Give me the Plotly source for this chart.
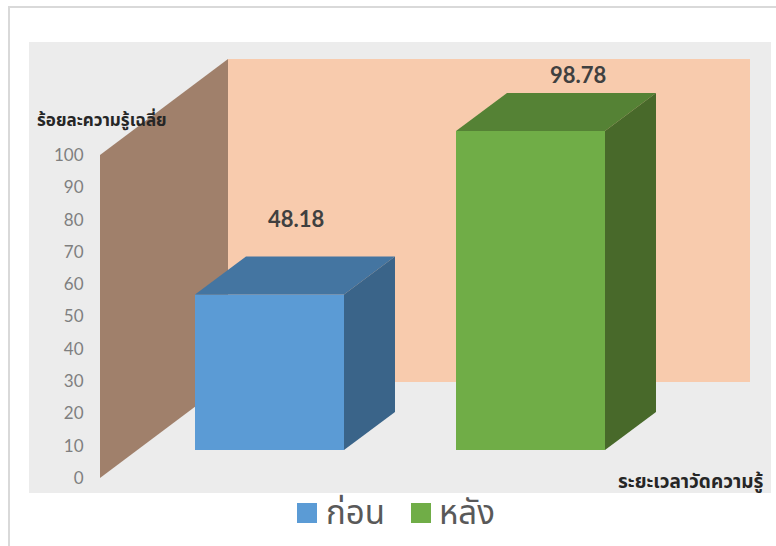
import plotly.graph_objects as go

# Data
categories = ["ก่อน", "หลัง"]
values = [48.18, 98.78]
y_ticks = [0, 10, 20, 30, 40, 50, 60, 70, 80, 90, 100]
y_title = "ร้อยละความรู้เฉลี่ย"
x_title = "ระยะเวลาวัดความรู้"

# Page size and value-axis scale
W, H = 776, 546
ZERO_ROW = 478
ROW_PER_UNIT = 3.23


def row(v):
    """Value on the y axis for a pixel row, for placing furniture."""
    return (ZERO_ROW - v) / ROW_PER_UNIT


# Oblique projection of the 3D box
WALL_LEFT, WALL_BACK, WALL_RIGHT = 100, 228, 750
WALL_DEPTH = row(382)
FLOOR = row(450)
BAR_DX, BAR_DY = 51, 38 / ROW_PER_UNIT
BAR_WIDTH = 149
bar_centers = [269.5, 530.5]
# data-label offset from the bar's rear top edge: columns right, value units up
label_shift = [(26.5, 11.6), (47.5, 5.8)]

FRONT = ["#5b9bd5", "#70ad47"]
TOP = ["#4475a1", "#558235"]
SIDE = ["#3a6489", "#48692a"]
THAI = "Noto Sans Thai, Noto Sans, Tahoma, sans-serif"
LATIN = "Lato, sans-serif"

fig = go.Figure()

for i, (name, v) in enumerate(zip(categories, values)):
    left = bar_centers[i] - BAR_WIDTH / 2
    right = bar_centers[i] + BAR_WIDTH / 2
    fig.add_bar(
        x=[bar_centers[i]], y=[v], base=FLOOR, width=BAR_WIDTH, name=name,
        marker=dict(color=FRONT[i], line_width=0), showlegend=False,
    )
    top = FLOOR + v
    # top face
    fig.add_scatter(
        x=[left, left + BAR_DX, right + BAR_DX, right, left],
        y=[top, top + BAR_DY, top + BAR_DY, top, top],
        mode="lines", fill="toself", fillcolor=TOP[i], line=dict(width=0),
        showlegend=False, hoverinfo="skip",
    )
    # side face
    fig.add_scatter(
        x=[right, right + BAR_DX, right + BAR_DX, right, right],
        y=[top, top + BAR_DY, FLOOR + BAR_DY, FLOOR, top],
        mode="lines", fill="toself", fillcolor=SIDE[i], line=dict(width=0),
        showlegend=False, hoverinfo="skip",
    )
    fig.add_annotation(
        x=bar_centers[i] + label_shift[i][0],
        y=top + BAR_DY + label_shift[i][1],
        text=f"<b>{v:.2f}</b>", showarrow=False, yanchor="middle",
        font=dict(family=LATIN, size=22, color="#404040"),
    )

# Legend row: coloured squares with their category names
legend_x = [307, 421]
legend_text_x = [326, 439]
legend_row = 513
for i, name in enumerate(categories):
    fig.add_scatter(
        x=[legend_x[i]], y=[row(legend_row)], mode="markers",
        marker=dict(symbol="square", size=20, color=FRONT[i], line_width=0),
        showlegend=False, hoverinfo="skip",
    )
    fig.add_scatter(
        x=[legend_text_x[i]], y=[row(legend_row + 3)], mode="text",
        text=[name], textposition="middle right",
        textfont=dict(family=THAI, size=33, color="#595959"),
        showlegend=False, hoverinfo="skip",
    )


def px(x):
    return x / W


def py(r):
    return 1 - r / H


walls = [
    # chart area
    dict(type="rect", xref="paper", yref="paper", x0=px(29), x1=px(771),
         y0=py(493), y1=py(42), fillcolor="#ececec", line_width=0, layer="below"),
    # outer frame, left and top edges
    dict(type="rect", xref="paper", yref="paper", x0=px(8), x1=px(10),
         y0=0, y1=py(6), fillcolor="#d9d9d9", line_width=0, layer="below"),
    dict(type="rect", xref="paper", yref="paper", x0=px(8), x1=1,
         y0=py(8), y1=py(6), fillcolor="#d9d9d9", line_width=0, layer="below"),
    # back wall
    dict(type="rect", xref="x", yref="y", x0=WALL_BACK, x1=WALL_RIGHT,
         y0=WALL_DEPTH, y1=100 + WALL_DEPTH, fillcolor="#f8cbad", line_width=0,
         layer="below"),
    # side wall
    dict(type="path", xref="x", yref="y",
         path=(f"M {WALL_LEFT} 0 L {WALL_BACK} {WALL_DEPTH} "
               f"L {WALL_BACK} {100 + WALL_DEPTH} L {WALL_LEFT} 100 Z"),
         fillcolor="#a0806b", line_width=0, layer="below"),
]

fig.add_annotation(
    x=35, y=row(121), xanchor="left", yanchor="middle", text=f"<b>{y_title}</b>",
    showarrow=False, font=dict(family=THAI, size=17, color="#262626"),
)
fig.add_annotation(
    x=765, y=row(482), xanchor="right", yanchor="middle", text=f"<b>{x_title}</b>",
    showarrow=False, font=dict(family=THAI, size=19, color="#262626"),
)

fig.update_layout(
    width=W, height=H, margin=dict(l=0, r=0, t=0, b=0),
    paper_bgcolor="white", plot_bgcolor="white", shapes=walls,
    showlegend=False, barmode="overlay",
    xaxis=dict(range=[0, W], visible=False, fixedrange=True),
    yaxis=dict(
        range=[row(H), row(0)], anchor="free", position=px(WALL_LEFT),
        tickmode="array", tickvals=y_ticks, ticks="outside", ticklen=13,
        tickcolor="rgba(0,0,0,0)", showgrid=False, zeroline=False, showline=False,
        tickfont=dict(family=LATIN, size=17, color="#7f7f7f"), fixedrange=True,
    ),
)

fig.write_html("out.html")
